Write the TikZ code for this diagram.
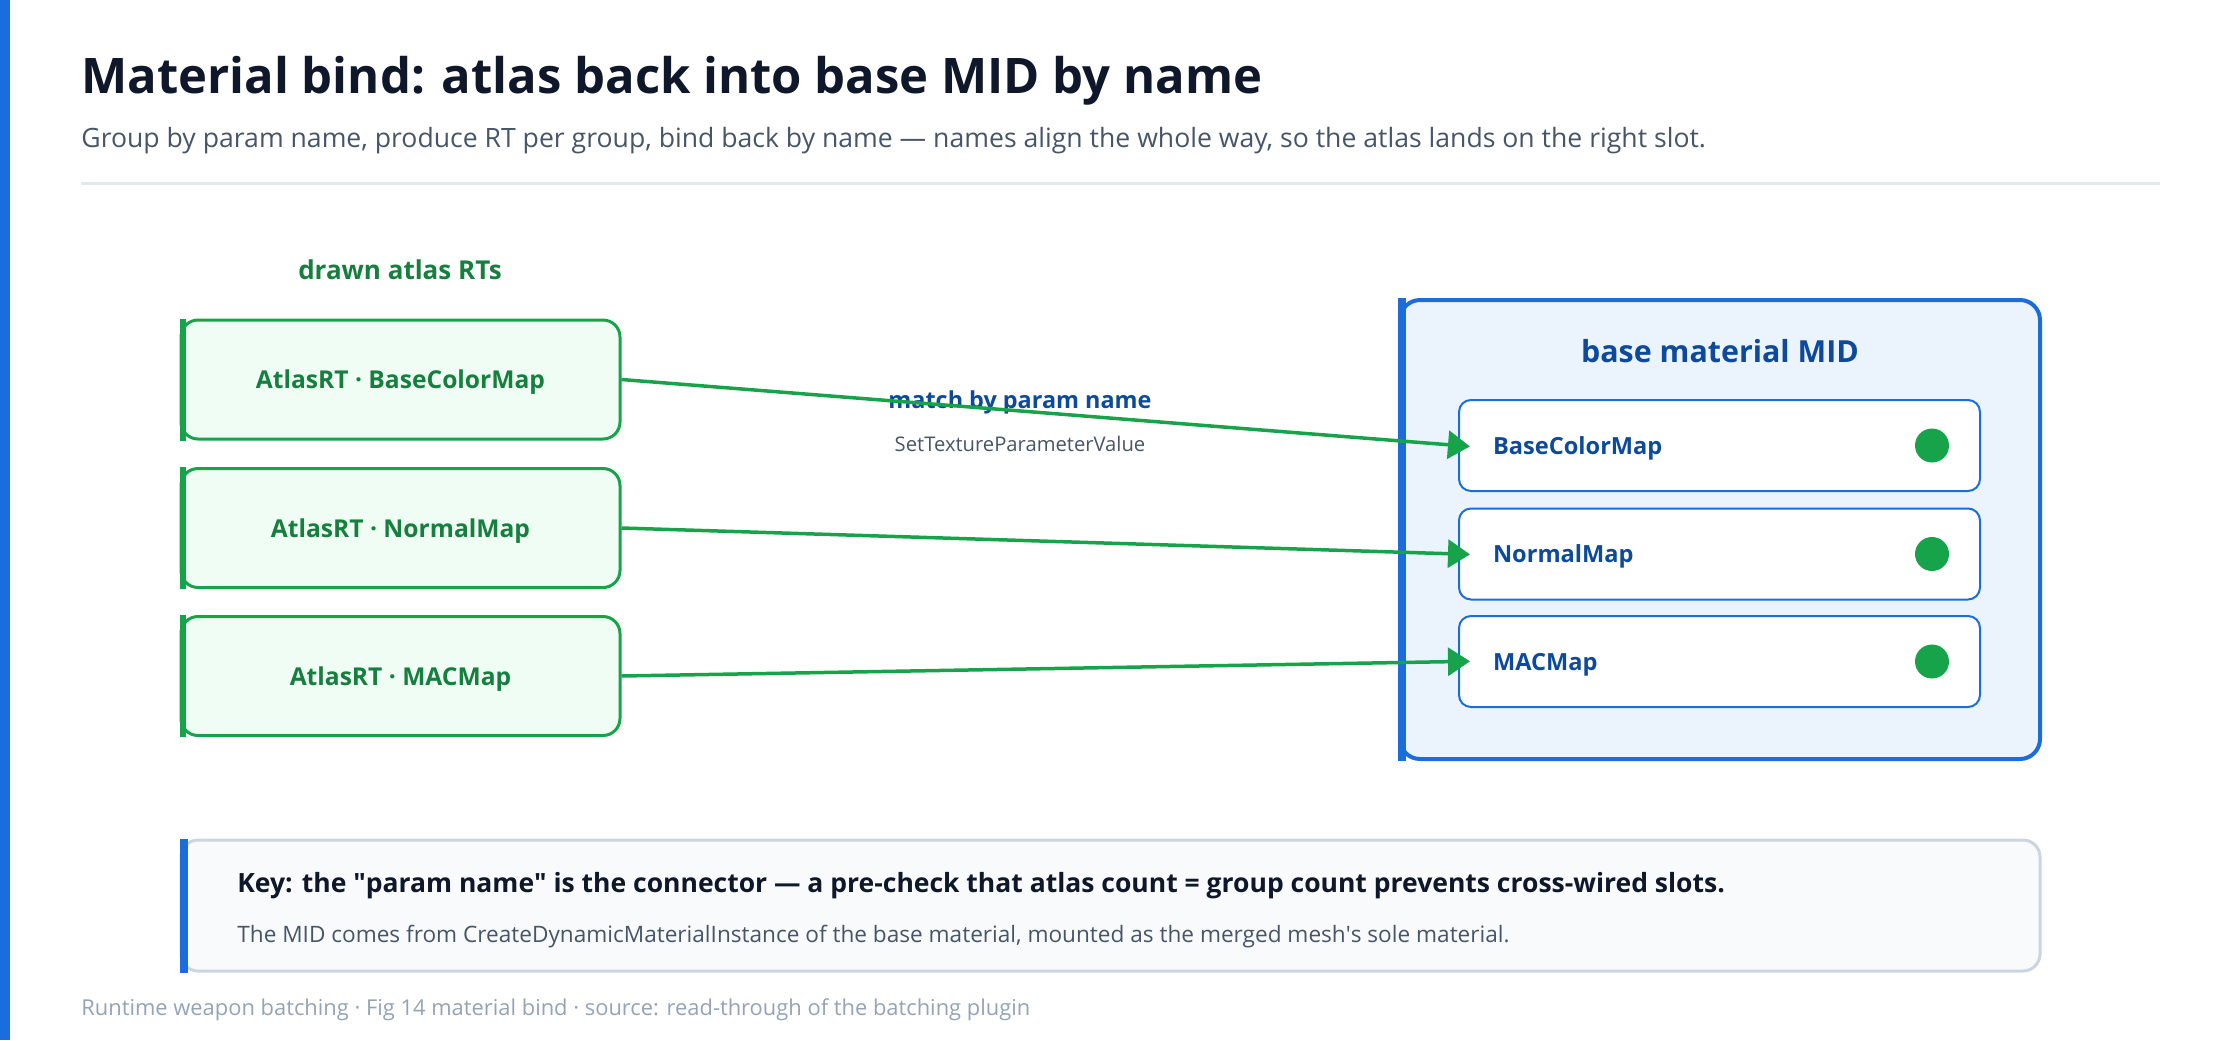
\documentclass[tikz,border=0pt]{standalone}
\usepackage{fontspec}
\setmainfont{Open Sans}
\usetikzlibrary{arrows.meta,positioning}
\definecolor{barblue}{HTML}{1A6DDB}
\definecolor{titleink}{HTML}{0F172A}
\definecolor{subink}{HTML}{475569}
\definecolor{ruleline}{HTML}{E2E8F0}
\definecolor{rtgreen}{HTML}{16A34A}
\definecolor{rtink}{HTML}{15803D}
\definecolor{rtfill}{HTML}{F0FDF4}
\definecolor{midfill}{HTML}{EBF3FD}
\definecolor{midink}{HTML}{0D4A9C}
\definecolor{keyfill}{HTML}{F8FAFC}
\definecolor{keyline}{HTML}{CBD5E1}
\definecolor{footink}{HTML}{94A3B8}
\newcommand{\fsz}[1]{\fontsize{#1}{1.2\dimexpr#1pt\relax}\selectfont}

\begin{document}
\begin{tikzpicture}[x=0.5pt,y=-0.5pt,
  rtbox/.style={draw=rtgreen, line width=1.5pt, fill=rtfill, rounded corners=8.5pt,
    minimum width=219.5pt, minimum height=59.5pt, text depth=0pt, text=rtink, font=\bfseries\fsz{12.3}},
  midbox/.style={draw=barblue, line width=2pt, fill=midfill, rounded corners=10pt,
    minimum width=320pt, minimum height=229.5pt},
  slotbox/.style={draw=barblue, line width=1pt, fill=white, rounded corners=6pt,
    text width=226.5pt, inner xsep=17pt, minimum height=45.5pt, text depth=0pt, align=left,
    text=midink, font=\bfseries\fsz{11.8}},
  wire/.style={draw=rtgreen, line width=1.75pt, -{Triangle[length=11pt,width=14pt]}, shorten >=-6pt}]
\useasboundingbox (0,0) rectangle (2240,1040);
% Page bar
\fill[barblue] (0,0) rectangle (10,1040);
% Header
\node[anchor=base west, inner sep=0, text=titleink, font=\bfseries\fsz{24.5}] (title) at (81,93)
  {Material bind: atlas back into base MID by name};
\node[anchor=base west, inner sep=0, text=subink, font=\fsz{13.3}] (subtitle) at (81,147)
  {Group by param name, produce RT per group, bind back by name — names align the whole way, so the atlas lands on the right slot.};
\draw[ruleline, line width=1.5pt] (81,183) -- (2160,183);
% Atlas RTs
\node[text=rtink, font=\bfseries\fsz{13}] (rthead) at (400,270) {drawn atlas RTs};
% Base MID
\node[midbox] (mid) at (1720,529.5) {};
\fill[barblue] (mid.north west) rectangle ([xshift=4pt]mid.south west);
\node[text=midink, font=\bfseries\fsz{15.2}] (midhead) at (1720,351) {base material MID};
\foreach \i/\p/\ya/\yb in {1/BaseColorMap/379.5/445.5, 2/NormalMap/528/554, 3/MACMap/676/661.5} {
  \node[rtbox] (rt\i) at (400.5,\ya) {AtlasRT · \p};
  \fill[rtgreen] (rt\i.north west) rectangle ([xshift=3pt]rt\i.south west);
  \node[slotbox] (slot\i) at (1719.5,\yb) {\p};
  \node[circle, fill=rtgreen, minimum size=17pt, inner sep=0] (dot\i) at ([xshift=-24.5pt]slot\i.east) {};
}
% Binding wires
\node[text=midink, font=\bfseries\fsz{11.7}] (matchlbl) at (1020,402) {match by param name};
\node[text=subink, font=\fsz{10.1}, below=4pt of matchlbl] (setlbl) {SetTextureParameterValue};
\foreach \i in {1,2,3}
  \draw[wire] (rt\i.east) -- (slot\i.west);
% Key
\node[draw=keyline, line width=1.5pt, fill=keyfill, rounded corners=8.5pt,
  minimum width=929.5pt, minimum height=65.5pt] (key) at (1110.5,905.5) {};
\fill[barblue] (key.north west) rectangle ([xshift=4pt]key.south west);
\node[anchor=west, inner sep=0, text=titleink, font=\bfseries\fsz{13.25}] (keyhead) at (237,886)
  {Key: the \textquotedbl param name\textquotedbl{} is the connector — a pre-check that atlas count = group count prevents cross-wired slots.};
\node[anchor=west, inner sep=0, text=subink, font=\fsz{11.3}] (keynote) at (237,937)
  {The MID comes from CreateDynamicMaterialInstance of the base material, mounted as the merged mesh\textquotesingle s sole material.};
% Footer
\node[anchor=west, inner sep=0, text=footink, font=\fsz{10.95}] (footer) at (81,1010)
  {Runtime weapon batching · Fig 14 material bind · source: read-through of the batching plugin};
\end{tikzpicture}
\end{document}
